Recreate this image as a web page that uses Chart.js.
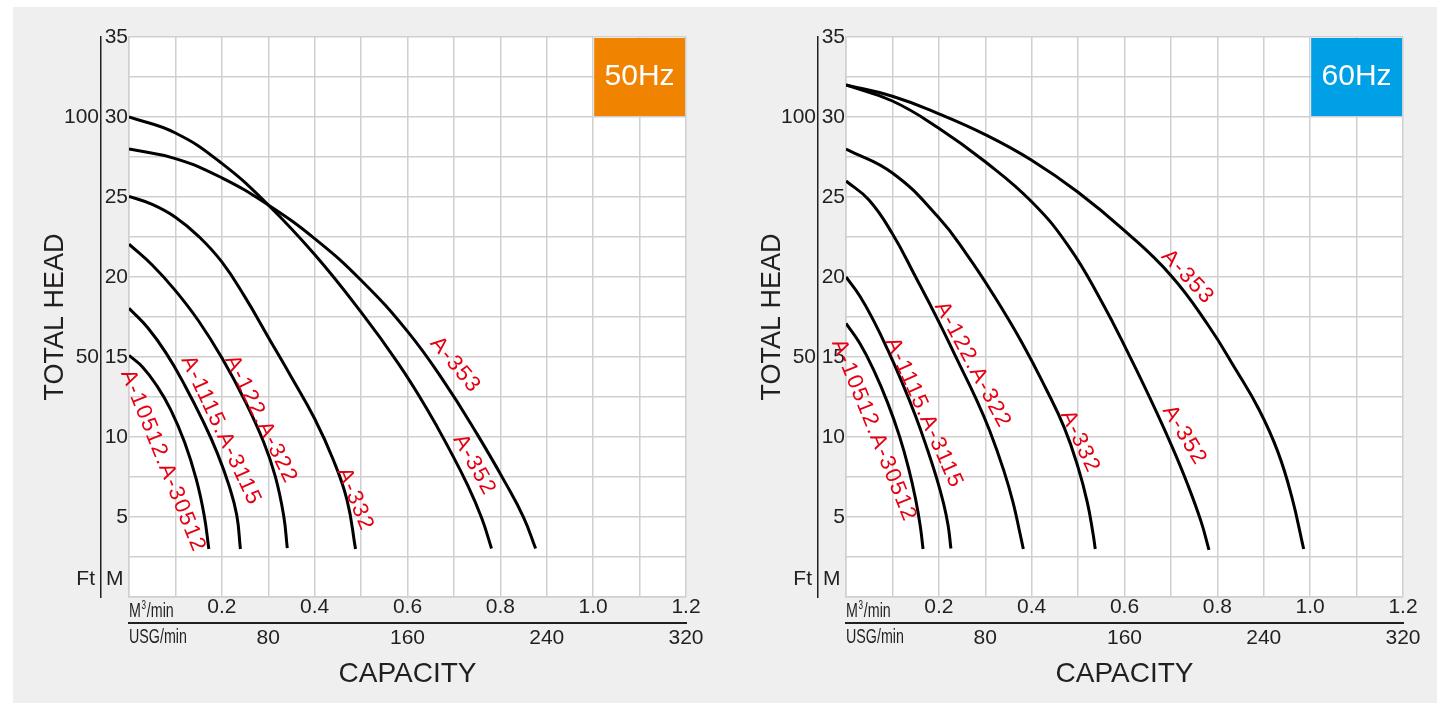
<!DOCTYPE html>
<html>
<head>
<meta charset="utf-8">
<script src="https://cdn.jsdelivr.net/npm/chart.js@4.4.1/dist/chart.umd.min.js"></script>
<style>
    html, body { margin: 0; padding: 0; background: #ffffff; }
    body { width: 1437px; height: 703px; position: relative; overflow: hidden; }
    #bg { position: absolute; left: 13px; top: 7px; width: 1424px; height: 696px; background: #eeefee; }
    .panel { position: absolute; top: 7px; width: 700px; height: 696px; }
    #p50 { left: 13px; }
    #p60 { left: 730px; }
</style>
</head>
<body>
<div id="bg"></div>
<div class="panel" id="p50"><canvas id="c50" width="700" height="696"></canvas></div>
<div class="panel" id="p60"><canvas id="c60" width="700" height="696"></canvas></div>
<script>
// capacity in m3/min, total head in m

// 50 Hz
const q50_10512 = [0, 0.03, 0.06, 0.09, 0.12, 0.145, 0.162, 0.172];
const h50_10512 = [15.1, 14.35, 13.2, 11.7, 9.66, 7.35, 5.1, 3.0];
const q50_1115 = [0, 0.04, 0.08, 0.12, 0.16, 0.19, 0.215, 0.232, 0.24];
const h50_1115 = [18.04, 16.84, 15.24, 13.24, 10.96, 9.01, 7.01, 5.14, 3.0];
const q50_122 = [0, 0.05, 0.1, 0.15, 0.2, 0.25, 0.29, 0.315, 0.333, 0.341];
const h50_122 = [22.05, 20.75, 19.15, 17.25, 14.95, 12.25, 9.69, 7.56, 5.13, 3.05];
const q50_332 = [0, 0.05, 0.1, 0.15, 0.2, 0.25, 0.3, 0.35, 0.4, 0.44, 0.47, 0.488];
const h50_332 = [25.04, 24.54, 23.74, 22.54, 20.94, 18.74, 16.24, 13.74, 11.14, 8.58, 6.03, 3.0];
const q50_352 = [0, 0.1, 0.2, 0.3, 0.4, 0.5, 0.58, 0.64, 0.69, 0.73, 0.76, 0.781];
const h50_352 = [30, 29.0, 27.1, 24.5, 21.4, 17.8, 14.6, 11.84, 9.24, 6.96, 4.92, 3.03];
const q50_353 = [0, 0.1, 0.2, 0.3, 0.4, 0.5, 0.6, 0.68, 0.75, 0.81, 0.85, 0.876];
const h50_353 = [28, 27.4, 26.2, 24.5, 22.4, 19.8, 16.6, 13.4, 10.18, 7.18, 4.98, 3.03];

// 60 Hz
const q60_10512 = [0, 0.03, 0.06, 0.09, 0.115, 0.135, 0.15, 0.16, 0.166];
const h60_10512 = [17.1, 15.84, 14.16, 12.12, 10.07, 8.03, 6.11, 4.43, 3.0];
const q60_1115 = [0, 0.03, 0.06, 0.09, 0.12, 0.15, 0.175, 0.195, 0.21, 0.22, 0.226];
const h60_1115 = [20, 18.8, 17.24, 15.44, 13.46, 11.3, 9.25, 7.45, 5.87, 4.47, 3.03];
const q60_122 = [0, 0.05, 0.1, 0.15, 0.2, 0.24, 0.28, 0.31, 0.34, 0.36, 0.375, 0.382];
const h60_122 = [26, 24.8, 22.7, 20.0, 17.2, 14.8, 12.4, 10.36, 7.9, 5.9, 3.95, 3.0];
const q60_332 = [0, 0.1, 0.2, 0.26, 0.32, 0.38, 0.43, 0.47, 0.5, 0.52, 0.532, 0.537];
const h60_332 = [28, 26.5, 23.7, 21.42, 18.78, 15.85, 13.06, 10.6, 8.1, 5.9, 4.0, 3.0];
const q60_352 = [0, 0.1, 0.2, 0.3, 0.4, 0.48, 0.55, 0.61, 0.66, 0.7, 0.735, 0.765, 0.782];
const h60_352 = [32, 31.0, 29.3, 27.2, 24.7, 21.9, 18.5, 15.12, 12.12, 9.56, 7.11, 4.71, 2.95];
const q60_353 = [0, 0.1, 0.2, 0.3, 0.4, 0.5, 0.6, 0.7, 0.78, 0.84, 0.89, 0.93, 0.96, 0.986];
const h60_353 = [32, 31.3, 30.2, 28.9, 27.3, 25.3, 22.9, 20.1, 17.0, 14.2, 11.7, 9.1, 6.3, 3.0];

// axes
const headTicks = [5, 10, 15, 20, 25, 30, 35];
const ftTicks = [50, 100];
const m3Ticks = ['0.2', '0.4', '0.6', '0.8', '1.0', '1.2'];
const usgTicks = [80, 160, 240, 320];
const ftPerMetre = 100 / 30;   // the sheet puts 100 ft on the 30 m line

// curve names and where they are written (q, h, angle)
const labels50 = [
    { text: 'A-10512.A-30512', q: 0.073, h: 8.5, angle: 68 },
    { text: 'A-1115.A-3115', q: 0.198, h: 10.4, angle: 65 },
    { text: 'A-122.A-322', q: 0.284, h: 11.1, angle: 64 },
    { text: 'A-332', q: 0.487, h: 6.1, angle: 68 },
    { text: 'A-353', q: 0.703, h: 14.5, angle: 50 },
    { text: 'A-352', q: 0.744, h: 8.25, angle: 61 }
];
const labels60 = [
    { text: 'A-10512.A-30512', q: 0.06, h: 10.4, angle: 68 },
    { text: 'A-1115.A-3115', q: 0.168, h: 11.5, angle: 66 },
    { text: 'A-122.A-322', q: 0.273, h: 14.5, angle: 62 },
    { text: 'A-332', q: 0.504, h: 9.7, angle: 65 },
    { text: 'A-352', q: 0.729, h: 10.1, angle: 59 },
    { text: 'A-353', q: 0.736, h: 20.0, angle: 47 }
];

const FONT = '"Liberation Sans", Arial, sans-serif';
const INK = '#231f20';
const GRID = '#d0d0d0';

const pumpDecor = {
    id: 'pumpDecor',

    beforeDraw(chart) {
        const { ctx, chartArea: a } = chart;
        ctx.save();
        ctx.fillStyle = '#ffffff';
        ctx.fillRect(a.left, a.top, a.right - a.left, a.bottom - a.top);
        ctx.restore();
    },

    beforeDatasetsDraw(chart, args, opts) {
        const { ctx, scales: { x, y } } = chart;
        const b = opts.badge;
        const x0 = x.getPixelForValue(b.q0) + 1;
        const x1 = x.getPixelForValue(b.q1) - 1;
        const y0 = y.getPixelForValue(b.h1) + 1;
        const y1 = y.getPixelForValue(b.h0) - 1;
        ctx.save();
        ctx.fillStyle = b.color;
        ctx.fillRect(x0, y0, x1 - x0, y1 - y0);
        ctx.fillStyle = '#ffffff';
        ctx.font = '30px ' + FONT;
        ctx.textAlign = 'center';
        ctx.textBaseline = 'alphabetic';
        ctx.fillText(b.text, (x0 + x1) / 2, (y0 + y1) / 2 + 8);
        ctx.restore();
    },

    afterDatasetsDraw(chart, args, opts) {
        const { ctx, scales: { x, y } } = chart;
        ctx.save();
        ctx.fillStyle = '#e60012';
        ctx.font = '22px ' + FONT;
        ctx.letterSpacing = '1.5px';
        ctx.textAlign = 'center';
        ctx.textBaseline = 'middle';
        opts.labels.forEach(l => {
            ctx.save();
            ctx.translate(x.getPixelForValue(l.q), y.getPixelForValue(l.h));
            ctx.rotate(l.angle * Math.PI / 180);
            ctx.fillText(l.text, 0, 0);
            ctx.restore();
        });
        ctx.restore();
    },

    afterDraw(chart) {
        const { ctx, scales: { x, y, ft, usg } } = chart;
        ctx.save();
        ctx.fillStyle = INK;

        // Ft | M
        const by = y.getPixelForValue(0) - 18;
        ctx.font = '21px ' + FONT;
        ctx.textBaseline = 'middle';
        ctx.textAlign = 'right';
        ctx.fillText('Ft', ft.right - 6, by);
        ctx.textAlign = 'left';
        ctx.fillText('M', y.left + 5, by);

        // unit captions, condensed
        const sx = 0.68;
        ctx.textBaseline = 'alphabetic';
        ctx.textAlign = 'left';
        ctx.save();
        ctx.translate(x.left, x.top + 20);
        ctx.scale(sx, 1);
        ctx.font = '21px ' + FONT;
        ctx.fillText('M', 0, 0);
        let w = ctx.measureText('M').width;
        ctx.font = '12px ' + FONT;
        ctx.fillText('3', w + 1, -8);
        w += ctx.measureText('3').width + 2;
        ctx.font = '21px ' + FONT;
        ctx.fillText('/min', w, 0);
        ctx.restore();

        ctx.save();
        ctx.translate(usg.left, usg.top + 20);
        ctx.scale(sx, 1);
        ctx.font = '21px ' + FONT;
        ctx.fillText('USG/min', 0, 0);
        ctx.restore();

        ctx.restore();
    }
};

function curve(q, h) {
    return {
        data: q.map((v, i) => ({ x: v, y: h[i] })),
        borderColor: '#000000',
        borderWidth: 3,
        pointRadius: 0,
        fill: false,
        tension: 0.45,
        xAxisID: 'x',
        yAxisID: 'y'
    };
}

function buildPanel(canvasId, datasets, labels, badge) {
    return new Chart(document.getElementById(canvasId), {
        type: 'line',
        data: { datasets: datasets },
        options: {
            responsive: false,
            animation: false,
            events: [],
            layout: { padding: { top: 30, right: 27, left: 0, bottom: 0 } },
            plugins: {
                legend: { display: false },
                tooltip: { enabled: false },
                pumpDecor: { labels: labels, badge: badge }
            },
            scales: {
                x: {
                    type: 'linear',
                    position: 'bottom',
                    weight: 0,
                    min: 0,
                    max: 1.2,
                    grid: { color: GRID, lineWidth: 1.5, drawTicks: false },
                    border: { color: GRID, width: 1.5 },
                    ticks: {
                        stepSize: 0.1,
                        autoSkip: false,
                        maxRotation: 0,
                        padding: 0,
                        color: INK,
                        font: { family: FONT, size: 21, lineHeight: 1 },
                        callback: v => {
                            const k = Math.round(v * 10);
                            return (k > 0 && k % 2 === 0) ? m3Ticks[k / 2 - 1] : '';
                        }
                    },
                    afterFit: s => { s.height = 26; }
                },
                usg: {
                    type: 'linear',
                    position: 'bottom',
                    weight: 1,
                    min: 0,
                    max: 320,
                    grid: { display: false, drawTicks: false },
                    border: { display: true, color: INK, width: 2 },
                    ticks: {
                        stepSize: 80,
                        autoSkip: false,
                        maxRotation: 0,
                        padding: 5,
                        color: INK,
                        font: { family: FONT, size: 21, lineHeight: 1 },
                        callback: v => usgTicks.includes(v) ? String(v) : ''
                    },
                    title: {
                        display: true,
                        text: 'CAPACITY',
                        color: INK,
                        font: { family: FONT, size: 28 },
                        padding: { top: 0, bottom: 12 }
                    },
                    afterFit: s => { s.height = 80; }
                },
                y: {
                    type: 'linear',
                    position: 'left',
                    weight: 0,
                    min: 0,
                    max: 35,
                    grid: { color: GRID, lineWidth: 1.5, drawTicks: false },
                    border: { color: GRID, width: 1.5 },
                    ticks: {
                        stepSize: 2.5,
                        autoSkip: false,
                        padding: 1,
                        color: INK,
                        font: { family: FONT, size: 21 },
                        callback: v => headTicks.includes(v) ? String(v) : ''
                    },
                    afterFit: s => { s.width = 28; }
                },
                ft: {
                    type: 'linear',
                    position: 'left',
                    weight: 1,
                    min: 0,
                    max: 35 * ftPerMetre,
                    grid: { display: false, drawTicks: false },
                    border: { display: true, color: INK, width: 1.5 },
                    afterBuildTicks: s => { s.ticks = ftTicks.map(v => ({ value: v })); },
                    ticks: {
                        padding: 2,
                        color: INK,
                        font: { family: FONT, size: 21 },
                        callback: v => String(v)
                    },
                    title: {
                        display: true,
                        text: 'TOTAL HEAD',
                        color: INK,
                        font: { family: FONT, size: 27 },
                        padding: { top: 26, bottom: 0 }
                    },
                    afterFit: s => { s.width = 88; }
                }
            }
        },
        plugins: [pumpDecor]
    });
}

buildPanel('c50', [
    curve(q50_10512, h50_10512),
    curve(q50_1115, h50_1115),
    curve(q50_122, h50_122),
    curve(q50_332, h50_332),
    curve(q50_352, h50_352),
    curve(q50_353, h50_353)
], labels50, { text: '50Hz', color: '#f08300', q0: 1.0, q1: 1.2, h0: 30, h1: 35 });

buildPanel('c60', [
    curve(q60_10512, h60_10512),
    curve(q60_1115, h60_1115),
    curve(q60_122, h60_122),
    curve(q60_332, h60_332),
    curve(q60_352, h60_352),
    curve(q60_353, h60_353)
], labels60, { text: '60Hz', color: '#00a0e6', q0: 1.0, q1: 1.2, h0: 30, h1: 35 });
</script>
</body>
</html>
